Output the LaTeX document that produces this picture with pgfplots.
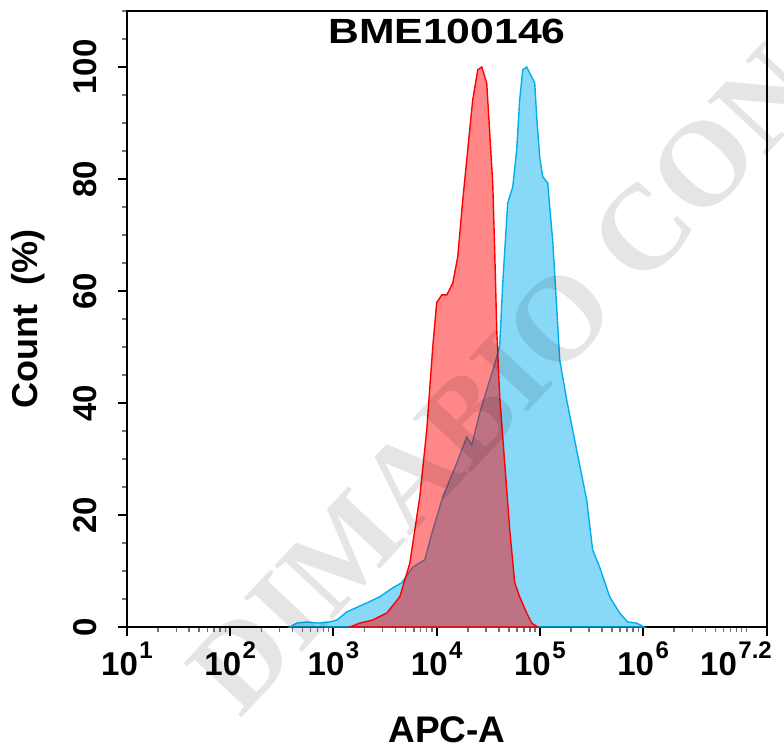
\documentclass[border=0pt]{standalone}
\usepackage{fontspec}
\setmainfont{Liberation Sans}
\newfontfamily\wmfont{Liberation Serif}
\usepackage{pgfplots}
\pgfplotsset{compat=1.18}
\usepackage{pgfplotstable}

\definecolor{bl}{RGB}{0,174,239}
\definecolor{rd}{RGB}{255,0,0}

\newcommand{\tl}[1]{10\hspace{1.5pt}\raisebox{17pt}{\fontsize{24}{24}\selectfont #1}}

\pgfplotstableread{
L V
3.159 0
3.256 0.7
3.381 1.25
3.517 2.5
3.643 5.4
3.740 11.4
3.836 23.2
3.904 35.2
3.962 50
4.000 57.9
4.049 59.3
4.098 59.3
4.156 61.4
4.204 66.1
4.253 76.3
4.301 85.2
4.349 94.1
4.398 99.5
4.437 100
4.485 97.1
4.514 88.2
4.543 79.3
4.562 67.3
4.582 53
4.611 41
4.659 29.3
4.708 17.3
4.756 7.9
4.804 5.4
4.872 2.5
4.921 0.7
4.979 0
}\redtab

\pgfplotstableread{
L V
2.578 0
2.646 0.7
2.742 0.9
2.849 0.7
2.965 0.9
3.033 1.25
3.130 2.7
3.323 4.3
3.449 5.4
3.575 7.0
3.662 7.9
3.769 10.7
3.885 12.0
3.962 17.3
4.059 23.2
4.195 29.3
4.291 33.9
4.340 32.5
4.417 38.2
4.514 44.1
4.582 48.2
4.611 50.4
4.640 61.4
4.688 75.7
4.737 78.6
4.775 85.2
4.804 94.1
4.834 99.5
4.872 100
4.921 98.2
4.950 97.1
4.969 91.1
4.998 83.9
5.027 80.4
5.076 79.3
5.095 75.0
5.124 69.0
5.163 57.0
5.192 47.7
5.260 40.5
5.356 31.6
5.453 22.7
5.511 13.75
5.579 10.7
5.676 5.4
5.772 2.5
5.850 0.9
5.937 0.7
6.010 0
}\bluetab

\begin{document}
\begin{tikzpicture}
\path[use as bounding box] (-127pt,-122pt) rectangle (657pt,627pt);
\begin{axis}[
  at={(0pt,0pt)}, anchor=south west,
  width=640pt, height=616pt, scale only axis,
  xmode=log, xmin=10, xmax=15848932,
  ymin=0, ymax=110,
  axis line style={line width=2pt},
  tick align=outside,
  major tick length=9pt, minor tick length=5pt,
  tick style={line width=2pt, black},
  minor tick style={line width=1.5pt, black!55},
  xtick pos=bottom, ytick pos=left,
  xtick={10,100,1000,10000,100000,1000000,15848932},
  xticklabels={\tl{1},\tl{2},\tl{3},\tl{4},\tl{5},\tl{6},\tl{7.2}\hspace*{62pt}},
  minor xtick={20,30,40,50,60,70,80,90,200,300,400,500,600,700,800,900,2000,3000,4000,5000,6000,7000,8000,9000,2e4,3e4,4e4,5e4,6e4,7e4,8e4,9e4,2e5,3e5,4e5,5e5,6e5,7e5,8e5,9e5,2e6,3e6,4e6,5e6,6e6,7e6,8e6,9e6,1e7},
  ytick={0,20,40,60,80,100},
  yticklabels={0,20,40,60,80,100},
  minor ytick={5,10,15,25,30,35,45,50,55,65,70,75,85,90,95,105,110},
  ticklabel style={font=\fontsize{33}{36}\selectfont\bfseries},
  yticklabel style={rotate=90, anchor=south, inner sep=0pt},
  yticklabel shift=21pt,
  xticklabel style={anchor=north, inner sep=0pt},
  xticklabel shift=6pt,
  xlabel={APC-A},
  ylabel={Count\ \ (\%)},
  xlabel style={at={([yshift=-115pt]axis description cs:0.5,0)}, anchor=base, inner sep=0pt, font=\fontsize{37}{40}\selectfont\bfseries},
  ylabel style={at={([xshift=-89pt]axis description cs:0,0.5)}, anchor=base, inner sep=0pt, font=\fontsize{36}{40}\selectfont\bfseries},
  clip=true,
]
\addplot[draw=bl, line width=1.4pt, fill=bl, fill opacity=0.47] table[x expr=10^\thisrow{L}, y=V] {\bluetab} \closedcycle;
\addplot[draw=rd, line width=1.4pt, fill=rd, fill opacity=0.47] table[x expr=10^\thisrow{L}, y=V] {\redtab} \closedcycle;
\node[anchor=base, inner sep=0pt, xscale=1.22, font=\fontsize{35}{38}\selectfont\bfseries] at ([yshift=-33pt]rel axis cs:0.5,1) {BME100146};
\end{axis}
\node[rotate=47, anchor=base west, inner sep=0pt, text=black, text opacity=0.10, font=\wmfont\bfseries\fontsize{121}{121}\selectfont] at (113pt,-93pt) {DIMABIO CON};
\end{tikzpicture}
\end{document}
